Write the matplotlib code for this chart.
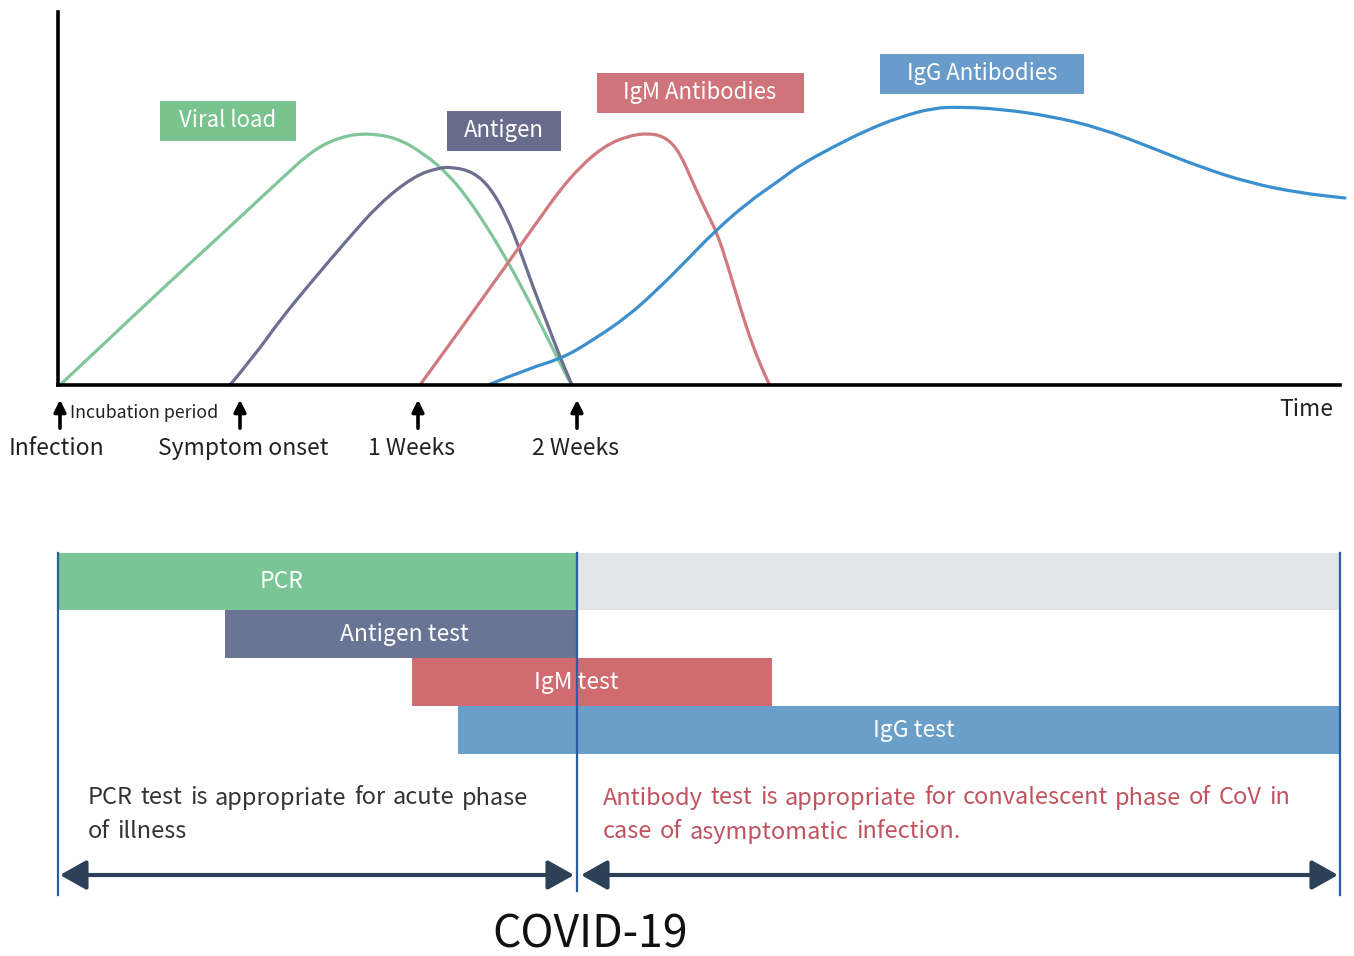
import matplotlib
matplotlib.use("Agg")
import matplotlib.pyplot as plt
from matplotlib.patches import Rectangle, PathPatch
from matplotlib.path import Path

plt.rcParams['font.family'] = ['Noto Sans CJK KR', 'DejaVu Sans']

# ---- data (time axis in arbitrary units, level in arbitrary units) ----
viral_t = [0.2, 5.2, 10.2, 15.2, 19.2, 22.2, 25.5, 28.2, 30.9, 33.9, 36.5, 38.9, 40.9, 42.9, 44.9, 46.9, 48.9, 50.9, 51.4]
viral_v = [0, 4.7, 9.4, 14.0, 17.7, 20.5, 23.5, 24.8, 25.2, 24.7, 23.2, 21.2, 18.8, 15.8, 12.5, 8.8, 4.8, 0.8, 0]

antigen_t = [17.2, 19.7, 22.2, 25.5, 28.9, 32.2, 35.5, 37.9, 39.5, 41.5, 43.2, 44.9, 46.2, 47.5, 48.9, 50.2, 51.4]
antigen_v = [0, 3.0, 6.5, 10.5, 14.5, 18.2, 20.8, 21.7, 21.8, 21.3, 19.8, 16.8, 13.5, 9.8, 6.2, 2.8, 0]

igm_t = [36.2, 40.2, 44.2, 48.2, 50.2, 52.2, 54.5, 56.9, 59.2, 60.9, 62.2, 63.5, 64.9, 65.9, 66.9, 68.2, 69.5, 70.9, 71.2]
igm_v = [0, 5.5, 11.1, 16.7, 19.5, 21.8, 23.8, 24.9, 25.2, 24.7, 23.2, 20.2, 17.2, 15.2, 12.2, 7.8, 3.8, 0.5, 0]

igg_t = [43.0, 47.2, 50.5, 53.5, 56.9, 59.9, 62.9, 65.5, 68.9, 72.2, 74.2, 77.5, 80.9, 84.2,
         87.5, 90.2, 94.2, 99.2, 104.2, 109.2, 114.2, 119.2, 124.2, 128.7]
igg_v = [0, 1.7, 2.7, 4.5, 6.8, 9.5, 12.5, 15.2, 18.2, 20.5, 22.0, 23.8, 25.5, 26.8,
         27.7, 27.8, 27.6, 26.9, 25.7, 23.8, 21.8, 20.2, 19.2, 18.7]

curve_names = ['Viral load', 'Antigen', 'IgM Antibodies', 'IgG Antibodies']
curve_colors = ['#80c69a', '#6d6f90', '#d07a80', '#3b8fcf']
box_colors = ['#79c38f', '#686c8c', '#cf747a', '#6a9ccb']
box_cx = [17.0, 44.6, 64.2, 92.4]
box_cy = [26.4, 25.4, 29.2, 31.1]
box_w = [13.6, 11.4, 20.7, 20.4]

event_t = [0.2, 18.2, 36.0, 51.9]
event_labels = ['Infection', 'Symptom onset', '1 Weeks', '2 Weeks']
event_label_t = [-0.2, 18.5, 35.4, 51.7]

test_names = ['PCR', 'Antigen test', 'IgM test', 'IgG test']
test_start = [0, 16.7, 35.4, 40.0]
test_end = [51.9, 51.9, 71.4, 128.2]
test_label_t = [22.4, 34.6, 51.8, 85.6]
test_row_top = [0, 5.7, 10.5, 15.3]
test_row_h = [5.7, 4.8, 4.8, 4.8]
test_colors = ['#79c596', '#6a7494', '#d06b6f', '#6a9fca']

pcr_note = ['PCR test is appropriate for acute phase', 'of illness']
ab_note = ['Antibody test is appropriate for convalescent phase of CoV in',
           'case of asymptomatic infection.']

T_END = 128.2
ACUTE_END = 51.9

fig = plt.figure(figsize=(13.54, 9.56), dpi=100)
W, H = 1354, 956
renderer = fig.canvas.get_renderer()

# ---------------- top panel: kinetics ----------------
ax = fig.add_axes([58 / W, 1 - 385 / H, 1282 / W, 373 / H])
ax.set_xlim(0, T_END)
ax.set_ylim(0, 37.3)
for s in ['top', 'right']:
    ax.spines[s].set_visible(False)
for s in ['left', 'bottom']:
    ax.spines[s].set_linewidth(2.6)
    ax.spines[s].set_color('black')
ax.set_xticks([])
ax.set_yticks([])
ax.patch.set_alpha(0)


def smooth_path(t, v):
    # read points are used as quadratic bezier control points, curve passes through midpoints
    pts = list(zip(t, v))
    verts = [pts[0]]
    codes = [Path.MOVETO]
    for i in range(1, len(pts) - 1):
        mid = ((pts[i][0] + pts[i + 1][0]) / 2, (pts[i][1] + pts[i + 1][1]) / 2)
        verts += [pts[i], mid]
        codes += [Path.CURVE3, Path.CURVE3]
    verts.append(pts[-1])
    codes.append(Path.LINETO)
    return Path(verts, codes)


series = [(viral_t, viral_v), (antigen_t, antigen_v), (igm_t, igm_v), (igg_t, igg_v)]
for (t, v), c in zip(series, curve_colors):
    ax.add_patch(PathPatch(smooth_path(t, v), fill=False, edgecolor=c, lw=2.3,
                           capstyle='round', joinstyle='round', clip_on=False, zorder=2))

for name, cx, cy, w, c in zip(curve_names, box_cx, box_cy, box_w, box_colors):
    ax.add_patch(Rectangle((cx - w / 2, cy - 2.0), w, 4.0, color=c, lw=0, zorder=3))
    ax.text(cx, cy, name, color='white', fontsize=16, ha='center', va='center', zorder=4)

for t, lab, lt in zip(event_t, event_labels, event_label_t):
    ax.annotate('', xy=(t, -1.2), xytext=(t, -4.6), annotation_clip=False,
                arrowprops=dict(arrowstyle='-|>,head_width=0.35,head_length=0.7',
                                color='black', lw=2.6))
    ax.text(lt, -6.4, lab, fontsize=16.5, ha='center', va='center', color='#222222', clip_on=False)

ax.text(1.2, -2.8, 'Incubation period', fontsize=12.8, ha='left', va='center', color='#222222')
ax.text(124.8, -2.5, 'Time', fontsize=16.5, ha='center', va='center', color='#222222')

# ---------------- bottom panel: tests ----------------
bx = fig.add_axes([58 / W, 0, 1282 / W, 403 / H])
bx.set_xlim(0, T_END)
bx.set_ylim(40.3, 0)
bx.axis('off')

bx.barh(test_row_top[0], T_END - ACUTE_END, left=ACUTE_END, height=test_row_h[0],
        align='edge', color='#e2e4e6', lw=0)
for name, s, e, lt, top, h, c in zip(test_names, test_start, test_end, test_label_t,
                                     test_row_top, test_row_h, test_colors):
    bx.barh(top, e - s, left=s, height=h, align='edge', color=c, lw=0)
    bx.text(lt, top + h / 2, name, color='white', fontsize=16.5, ha='center', va='center', zorder=4)

for xv, yb in zip([0, ACUTE_END, T_END], [34.2, 33.8, 34.2]):
    bx.plot([xv, xv], [0, yb], color='#2a5ea3', lw=1.6, zorder=5, clip_on=False)

px_per_unit = 1282 / T_END


def word_widths(words, **kw):
    out = []
    for w in words:
        t = bx.text(0, 0, w, **kw)
        out.append(t.get_window_extent(renderer).width / px_per_unit)
        t.remove()
    return out


def note(lines, x0, x1, y0, dy, **kw):
    # first line justified between x0 and x1, later lines use the same word gap
    first = lines[0].split()
    ww = word_widths(first, **kw)
    gap = (x1 - x0 - sum(ww)) / (len(first) - 1)
    for i, line in enumerate(lines):
        words = line.split()
        widths = word_widths(words, **kw)
        x = x0
        for w, wd in zip(words, widths):
            bx.text(x, y0 + i * dy, w, ha='left', va='center', **kw)
            x += wd + gap


note(pcr_note, 3.0, 47.0, 24.5, 3.4, fontsize=17, color='#333333')
note(ab_note, 54.5, 123.2, 24.5, 3.4, fontsize=17, color='#c0535e')

for a, b in [(0.2, 51.6), (52.3, 128.0)]:
    bx.annotate('', xy=(b, 32.2), xytext=(a, 32.2), annotation_clip=False,
                arrowprops=dict(arrowstyle='<|-|>,head_width=0.45,head_length=0.8',
                                mutation_scale=20, color='#2c4158', lw=3,
                                shrinkA=0, shrinkB=0))

bx.text(53.2, 38.2, 'COVID-19', fontsize=32, ha='center', va='center', color='#111111')

fig.savefig('out.png', dpi=100)
